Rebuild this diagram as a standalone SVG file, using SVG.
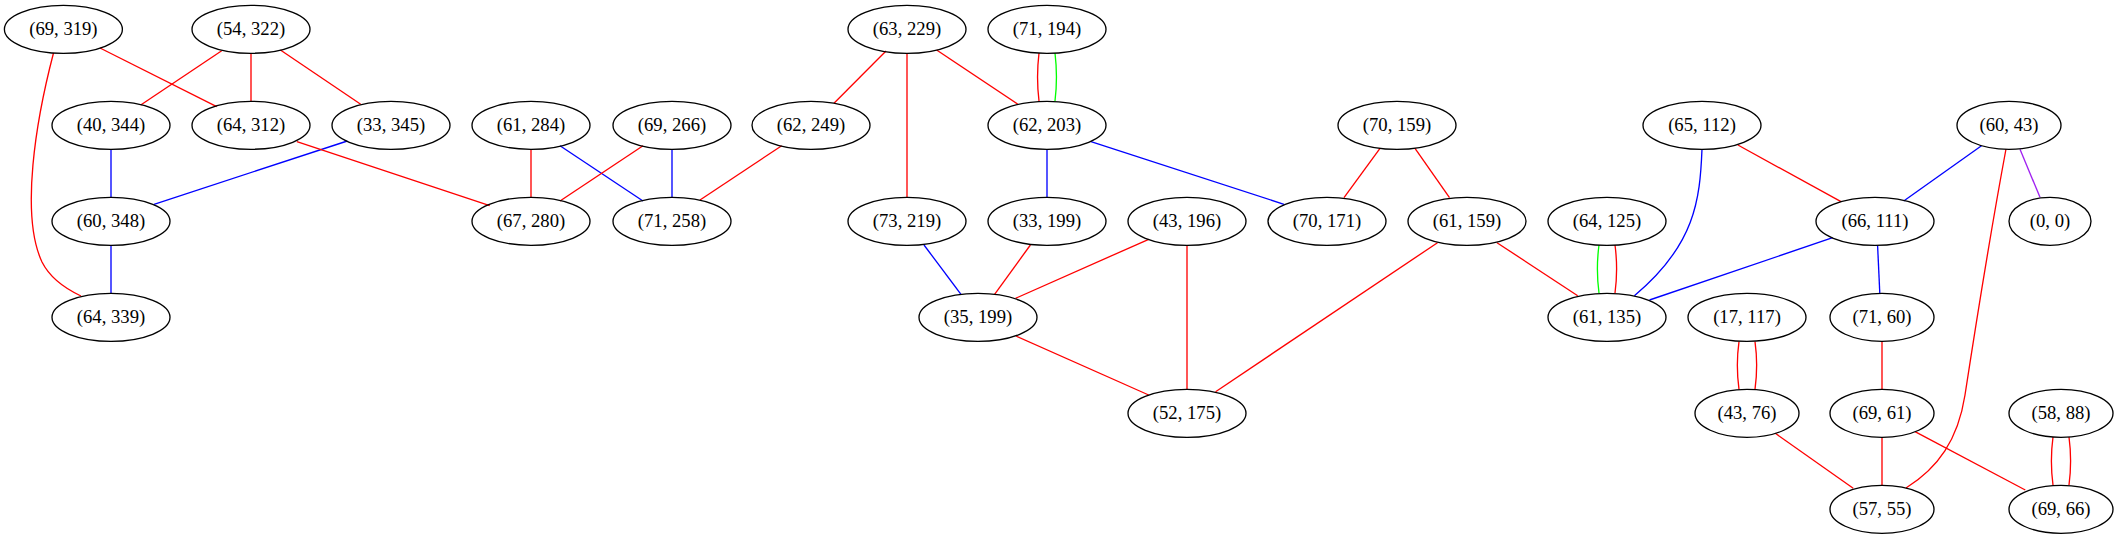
<svg xmlns="http://www.w3.org/2000/svg" width="2118" height="539" viewBox="0 0 2118 539">
<style>
.node ellipse{fill:none;stroke:#000;stroke-width:1.33}
.node text{font-family:"Liberation Serif","Times New Roman",serif;font-size:18.67px;text-anchor:middle;fill:#000}
#edges path{fill:none;stroke-width:1.33}
.r{stroke:#ff0000}.b{stroke:#0000ff}.g{stroke:#00ff00}.p{stroke:#a020f0}
</style>
<rect width="2118" height="539" fill="#fff"/>
<g id="edges">
<path class="r" d="M53.5,53 C36,120 20,215 42,262 C50,278 64,288 81,296"/>
<path class="r" d="M100,48 L216.7,106.7"/>
<path class="r" d="M221.7,50.7 L140.7,105"/>
<path class="r" d="M251,53 L251,101"/>
<path class="r" d="M280.4,50 L360.7,104.3"/>
<path class="b" d="M111,149 L111,197"/>
<path class="b" d="M347.3,141 L154,204.3"/>
<path class="b" d="M111,245 L111,293"/>
<path class="r" d="M296.9,141.7 L489.7,205.7"/>
<path class="r" d="M531,149 L531,197"/>
<path class="b" d="M560,145.7 L643,201"/>
<path class="r" d="M643,145.7 L560,201"/>
<path class="b" d="M672,149 L672,197"/>
<path class="r" d="M781.7,145.7 L700,200"/>
<path class="r" d="M886,51 L834,103.3"/>
<path class="r" d="M907,53 L907,197"/>
<path class="r" d="M936.6,50 L1017.9,104.3"/>
<path class="r" d="M1039,53 C1037,70 1037,85 1039,101"/>
<path class="g" d="M1055,53 C1057,70 1057,85 1055,101"/>
<path class="b" d="M1047,149 L1047,197"/>
<path class="b" d="M1091,141.7 L1284,204.3"/>
<path class="b" d="M924,245 L961,294.3"/>
<path class="r" d="M1030.4,245 L994.6,294.3"/>
<path class="r" d="M1148.7,239.3 L1015.6,298.3"/>
<path class="r" d="M1187,245 L1187,389"/>
<path class="r" d="M1016,336 L1148.7,395"/>
<path class="r" d="M1380,148.3 L1344,197.7"/>
<path class="r" d="M1415,148.3 L1449.5,197.7"/>
<path class="r" d="M1437.5,242.7 L1215.6,391.7"/>
<path class="r" d="M1497,242.7 L1577.7,295.7"/>
<path class="g" d="M1599,245 C1597,260 1597,278 1599,293"/>
<path class="r" d="M1615,245 C1617,260 1617,278 1615,293"/>
<path class="b" d="M1702,149 C1700,200 1695,245 1634.4,295.7"/>
<path class="r" d="M1737.9,145 L1841,201.7"/>
<path class="b" d="M1981.5,145.7 L1903.7,201"/>
<path class="p" d="M2020,149.3 L2040,197.3"/>
<path class="r" d="M2006,149 C1990,235 1975,330 1965,395 C1958,440 1938,468 1906,488"/>
<path class="b" d="M1832.7,237.7 L1649.5,300"/>
<path class="b" d="M1877.6,245.7 L1879.8,293.3"/>
<path class="r" d="M1739,341.7 C1737,356 1737,375 1739,389.3"/>
<path class="r" d="M1755,341.7 C1757,356 1757,375 1755,389.3"/>
<path class="r" d="M1882,341 L1882,389"/>
<path class="r" d="M1775.3,433.3 L1853.2,488.3"/>
<path class="r" d="M1882,437 L1882,485"/>
<path class="r" d="M1915,431.7 L2025.3,490"/>
<path class="r" d="M2053,437 C2051,452 2051,470 2053,485"/>
<path class="r" d="M2069,437 C2071,452 2071,470 2069,485"/>
</g>
<g id="n69_319" class="node"><ellipse cx="63.4" cy="29.3" rx="59" ry="24"/><text x="63.4" y="35">(69, 319)</text></g>
<g id="n54_322" class="node"><ellipse cx="251" cy="29.3" rx="59" ry="24"/><text x="251" y="35">(54, 322)</text></g>
<g id="n63_229" class="node"><ellipse cx="907" cy="29.3" rx="59" ry="24"/><text x="907" y="35">(63, 229)</text></g>
<g id="n71_194" class="node"><ellipse cx="1047" cy="29.3" rx="59" ry="24"/><text x="1047" y="35">(71, 194)</text></g>
<g id="n40_344" class="node"><ellipse cx="111" cy="125.3" rx="59" ry="24"/><text x="111" y="131">(40, 344)</text></g>
<g id="n64_312" class="node"><ellipse cx="251" cy="125.3" rx="59" ry="24"/><text x="251" y="131">(64, 312)</text></g>
<g id="n33_345" class="node"><ellipse cx="391" cy="125.3" rx="59" ry="24"/><text x="391" y="131">(33, 345)</text></g>
<g id="n61_284" class="node"><ellipse cx="531" cy="125.3" rx="59" ry="24"/><text x="531" y="131">(61, 284)</text></g>
<g id="n69_266" class="node"><ellipse cx="672" cy="125.3" rx="59" ry="24"/><text x="672" y="131">(69, 266)</text></g>
<g id="n62_249" class="node"><ellipse cx="811" cy="125.3" rx="59" ry="24"/><text x="811" y="131">(62, 249)</text></g>
<g id="n62_203" class="node"><ellipse cx="1047" cy="125.3" rx="59" ry="24"/><text x="1047" y="131">(62, 203)</text></g>
<g id="n70_159" class="node"><ellipse cx="1397" cy="125.3" rx="59" ry="24"/><text x="1397" y="131">(70, 159)</text></g>
<g id="n65_112" class="node"><ellipse cx="1702" cy="125.3" rx="59" ry="24"/><text x="1702" y="131">(65, 112)</text></g>
<g id="n60_43" class="node"><ellipse cx="2009" cy="125.3" rx="52" ry="24"/><text x="2009" y="131">(60, 43)</text></g>
<g id="n60_348" class="node"><ellipse cx="111" cy="221.3" rx="59" ry="24"/><text x="111" y="227">(60, 348)</text></g>
<g id="n67_280" class="node"><ellipse cx="531" cy="221.3" rx="59" ry="24"/><text x="531" y="227">(67, 280)</text></g>
<g id="n71_258" class="node"><ellipse cx="672" cy="221.3" rx="59" ry="24"/><text x="672" y="227">(71, 258)</text></g>
<g id="n73_219" class="node"><ellipse cx="907" cy="221.3" rx="59" ry="24"/><text x="907" y="227">(73, 219)</text></g>
<g id="n33_199" class="node"><ellipse cx="1047" cy="221.3" rx="59" ry="24"/><text x="1047" y="227">(33, 199)</text></g>
<g id="n43_196" class="node"><ellipse cx="1187" cy="221.3" rx="59" ry="24"/><text x="1187" y="227">(43, 196)</text></g>
<g id="n70_171" class="node"><ellipse cx="1327" cy="221.3" rx="59" ry="24"/><text x="1327" y="227">(70, 171)</text></g>
<g id="n61_159" class="node"><ellipse cx="1467" cy="221.3" rx="59" ry="24"/><text x="1467" y="227">(61, 159)</text></g>
<g id="n64_125" class="node"><ellipse cx="1607" cy="221.3" rx="59" ry="24"/><text x="1607" y="227">(64, 125)</text></g>
<g id="n66_111" class="node"><ellipse cx="1875" cy="221.3" rx="59" ry="24"/><text x="1875" y="227">(66, 111)</text></g>
<g id="n0_0" class="node"><ellipse cx="2050" cy="221.3" rx="41" ry="24"/><text x="2050" y="227">(0, 0)</text></g>
<g id="n64_339" class="node"><ellipse cx="111" cy="317.3" rx="59" ry="24"/><text x="111" y="323">(64, 339)</text></g>
<g id="n35_199" class="node"><ellipse cx="978" cy="317.3" rx="59" ry="24"/><text x="978" y="323">(35, 199)</text></g>
<g id="n61_135" class="node"><ellipse cx="1607" cy="317.3" rx="59" ry="24"/><text x="1607" y="323">(61, 135)</text></g>
<g id="n17_117" class="node"><ellipse cx="1747" cy="317.3" rx="59" ry="24"/><text x="1747" y="323">(17, 117)</text></g>
<g id="n71_60" class="node"><ellipse cx="1882" cy="317.3" rx="52" ry="24"/><text x="1882" y="323">(71, 60)</text></g>
<g id="n52_175" class="node"><ellipse cx="1187" cy="413.3" rx="59" ry="24"/><text x="1187" y="419">(52, 175)</text></g>
<g id="n43_76" class="node"><ellipse cx="1747" cy="413.3" rx="52" ry="24"/><text x="1747" y="419">(43, 76)</text></g>
<g id="n69_61" class="node"><ellipse cx="1882" cy="413.3" rx="52" ry="24"/><text x="1882" y="419">(69, 61)</text></g>
<g id="n58_88" class="node"><ellipse cx="2061" cy="413.3" rx="52" ry="24"/><text x="2061" y="419">(58, 88)</text></g>
<g id="n57_55" class="node"><ellipse cx="1882" cy="509.3" rx="52" ry="24"/><text x="1882" y="515">(57, 55)</text></g>
<g id="n69_66" class="node"><ellipse cx="2061" cy="509.3" rx="52" ry="24"/><text x="2061" y="515">(69, 66)</text></g>
</svg>
